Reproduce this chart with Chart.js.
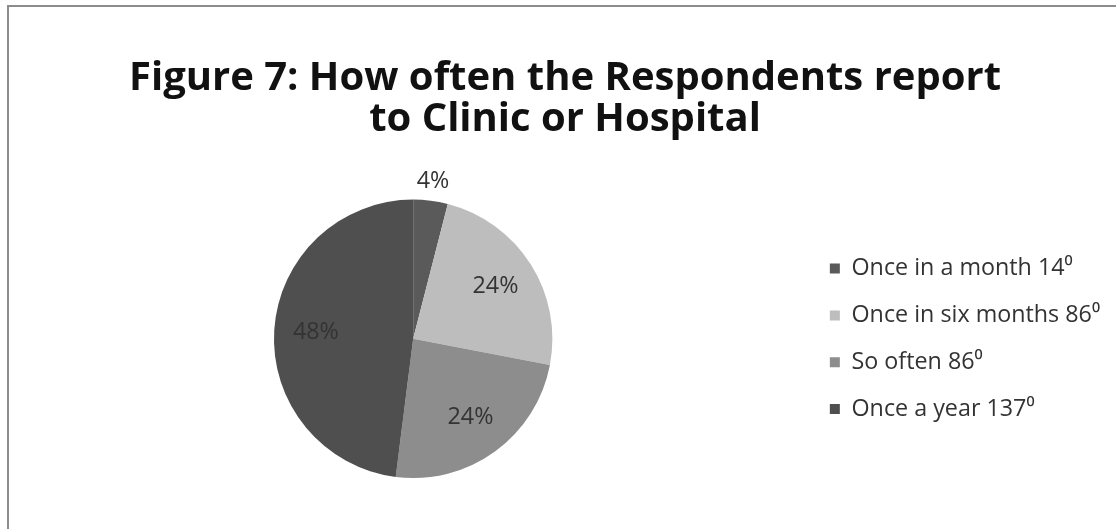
<!DOCTYPE html>
<html>
<head>
<meta charset="utf-8">
<script src="https://cdn.jsdelivr.net/npm/chart.js@4/dist/chart.umd.min.js"></script>
<style>
  html, body { margin: 0; padding: 0; background: #fff; }
  #wrap {
    position: absolute; left: 0; top: 0; width: 1116px; height: 529px;
  }
  #frame {
    position: absolute; left: 7px; top: 5px; right: 0; bottom: 0;
    border-top: 2px solid #8c8c8c; border-left: 2px solid #8c8c8c;
  }
  #visits { position: absolute; left: 0; top: 0; }
</style>
</head>
<body>
<div id="wrap">
  <div id="frame"></div>
  <canvas id="visits" width="1116" height="529"></canvas>
</div>
<script>
const titleLines = ['Figure 7: How often the Respondents report', 'to Clinic or Hospital'];
const categories = ['Once in a month 14⁰', 'Once in six months 86⁰', 'So often 86⁰', 'Once a year 137⁰'];
const percentages = [4, 24, 24, 48];
const sliceColors = ['#5a5a5a', '#bdbdbd', '#8d8d8d', '#4f4f4f'];

const FONT = "'Open Sans', 'DejaVu Sans', sans-serif";

// size the title so the first line spans the same width as the printed one
function fitFontSize(text, weight, family, targetWidth) {
  const ctx = document.createElement('canvas').getContext('2d');
  ctx.font = weight + ' 100px ' + family;
  return Math.round((100 * targetWidth) / ctx.measureText(text).width * 10) / 10;
}
const titleSize = fitFontSize(titleLines[0], 'bold', FONT, 872);
const legendSize = fitFontSize(categories[1], 'normal', FONT, 249);

// writes the percentage on each slice; small slices get it just outside the rim
const sliceLabels = {
  id: 'sliceLabels',
  afterDatasetsDraw(chart) {
    const { ctx } = chart;
    const meta = chart.getDatasetMeta(0);
    ctx.save();
    ctx.font = legendSize + 'px ' + FONT;
    ctx.fillStyle = '#333';
    ctx.textAlign = 'center';
    ctx.textBaseline = 'middle';
    meta.data.forEach((arc, i) => {
      const mid = (arc.startAngle + arc.endAngle) / 2;
      const r = percentages[i] < 8 ? arc.outerRadius + 19 : arc.outerRadius * 0.7;
      ctx.fillText(percentages[i] + '%', arc.x + Math.cos(mid) * r, arc.y + Math.sin(mid) * r);
    });
    ctx.restore();
  },
};

new Chart(document.getElementById('visits'), {
  type: 'pie',
  plugins: [sliceLabels],
  data: {
    labels: categories,
    datasets: [
      {
        data: percentages,
        backgroundColor: sliceColors,
        borderWidth: 0,
      },
    ],
  },
  options: {
    responsive: false,
    animation: false,
    layout: { padding: { left: 20, right: 6, top: 58, bottom: 51 } },
    plugins: {
      tooltip: { enabled: false },
      title: {
        display: true,
        text: titleLines,
        color: '#111',
        font: { family: FONT, size: titleSize, weight: 'bold', lineHeight: 1.02 },
        padding: { top: 0, bottom: 60 },
      },
      legend: {
        position: 'right',
        fullSize: false,
        labels: {
          color: '#333',
          font: { family: FONT, size: legendSize },
          boxWidth: 10,
          boxHeight: 10,
          padding: 23.5,
        },
      },
    },
  },
});
</script>
</body>
</html>
